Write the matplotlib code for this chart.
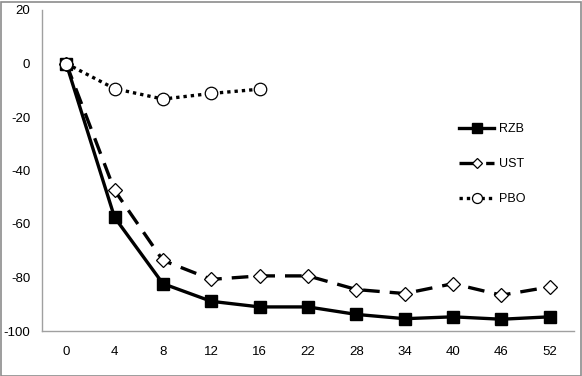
import matplotlib
matplotlib.use("Agg")
import matplotlib.pyplot as plt
from matplotlib.patches import Rectangle

weeks = ["0", "4", "8", "12", "16", "22", "28", "34", "40", "46", "52"]
rzb = [0, -57.5, -82.3, -88.9, -91, -91, -93.8, -95.4, -94.7, -95.6, -94.7]
ust = [0, -47.4, -73.6, -80.7, -79.4, -79.4, -84.5, -86, -82.3, -86.6, -83.5]
pbo = [0, -9.4, -13.3, -11.2, -9.6]

plt.rcParams['font.family'] = ['Liberation Sans', 'DejaVu Sans']
plt.rcParams['axes.unicode_minus'] = False

fig = plt.figure(figsize=(5.82, 3.76), dpi=100)
W, H = 582, 376
ax = fig.add_axes([42 / W, 1 - 331 / H, (574 - 42) / W, (331 - 10) / H])

x = list(range(len(weeks)))
ax.plot(x, rzb, color='black', lw=2.4, marker='s', ms=9, mfc='black', mec='black',
        label='RZB', zorder=3)
ax.plot(x, ust, color='black', lw=2.4, ls=(0, (5, 3)), marker='D', ms=7,
        mfc='white', mec='black', mew=0.9, label='UST', zorder=3)
ax.plot(x[:len(pbo)], pbo, color='black', lw=2.4, ls=(0, (1, 1.2)), marker='o', ms=9,
        mfc='white', mec='black', mew=0.9, label='PBO', zorder=4)

ax.set_xlim(-0.5, len(weeks) - 0.5)
ax.set_ylim(-100, 20)
ax.set_yticks(range(-100, 21, 20))
ax.set_xticks(x)
ax.set_xticklabels(weeks)
ax.tick_params(length=0, labelsize=9.5, colors='black')
ax.tick_params(axis='y', pad=8.5)
ax.tick_params(axis='x', pad=11)
for s in ['top', 'right']:
    ax.spines[s].set_visible(False)
for s in ['left', 'bottom']:
    ax.spines[s].set_color('#a0a0a0')
    ax.spines[s].set_linewidth(1.0)

leg = ax.legend(loc='upper left', bbox_to_anchor=(412 / 532, 1 - (118 - 10) / 321),
                frameon=False, fontsize=9, handlelength=2.8, labelspacing=1.85,
                handletextpad=0.4, borderaxespad=0, markerscale=0.8)

fig.patches.append(Rectangle((0.5 / W, 0.5 / H), (W - 2) / W, (H - 2) / H,
                             transform=fig.transFigure, fill=False,
                             edgecolor='#8c8c8c', lw=1.2))

fig.savefig('out.png', dpi=100)
